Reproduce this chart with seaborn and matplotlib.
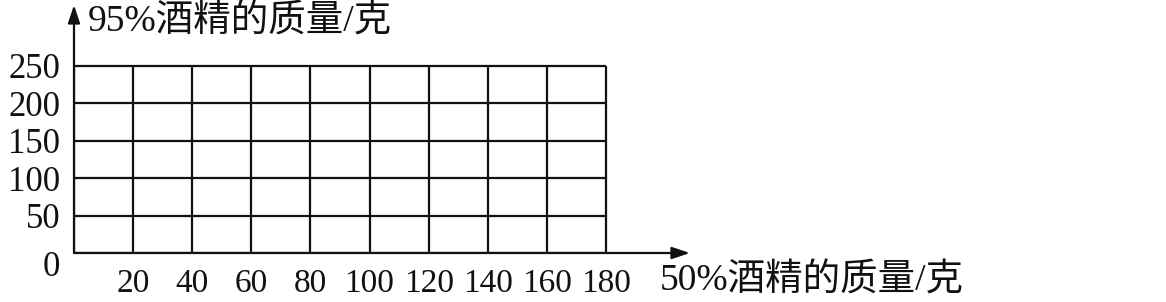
import matplotlib
matplotlib.use("Agg")
import matplotlib.pyplot as plt
import seaborn as sns
from matplotlib.transforms import ScaledTranslation

x_ticks = [0, 20, 40, 60, 80, 100, 120, 140, 160, 180]
x_labels = ["", "20", "40", "60", "80", "100", "120", "140", "160", "180"]
y_ticks = [0, 50, 100, 150, 200, 250]
y_labels = ["0", "50", "100", "150", "200", "250"]
x_title = "50%酒精的质量/克"
y_title = "95%酒精的质量/克"

sns.set_theme(style="white")
fam = ["Liberation Serif", "Noto Sans CJK SC"]
plt.rcParams["font.family"] = fam

W, H = 1166, 302
fig = plt.figure(figsize=(W / 100, H / 100), dpi=100)
x0, x180, xend = 74, 606, 690
ybot, y250, ytop = 253, 66, 5
ax = fig.add_axes([x0 / W, (H - ybot) / H, (xend - x0) / W, (ybot - ytop) / H])
ax.set_facecolor("white")

xmax = (xend - x0) / (x180 - x0) * 180
ymax = (ybot - ytop) / (ybot - y250) * 250
ax.set_xlim(0, xmax)
ax.set_ylim(0, ymax)

lc = "#111111"
ax.vlines(x_ticks, 0, y_ticks[-1], colors=lc, linewidth=1.6)
ax.hlines(y_ticks, 0, x_ticks[-1], colors=lc, linewidth=1.6)

for s in ["top", "right", "left", "bottom"]:
    ax.spines[s].set_visible(False)

ax.annotate("", xy=(xmax, 0), xytext=(0, 0),
            arrowprops=dict(arrowstyle="-|>,head_length=0.9,head_width=0.3", color=lc, lw=1.6,
                            shrinkA=0, shrinkB=0), annotation_clip=False)
ax.annotate("", xy=(0, ymax), xytext=(0, 0),
            arrowprops=dict(arrowstyle="-|>,head_length=0.9,head_width=0.3", color=lc, lw=1.6,
                            shrinkA=0, shrinkB=0), annotation_clip=False)

ax.set_xticks(x_ticks)
ax.set_xticklabels(x_labels, fontsize=24, color=lc)
ax.set_yticks(y_ticks)
ax.set_yticklabels(y_labels, fontsize=25, color=lc)
ax.tick_params(axis="x", length=0, pad=11)
ax.tick_params(axis="y", length=0, pad=10)
lab0 = ax.get_yticklabels()[0]
lab0.set_transform(lab0.get_transform() + ScaledTranslation(0, -10 / 100, fig.dpi_scale_trans))

fig.text(660 / W, 1 - 281 / H, x_title, fontsize=27, color=lc, ha="left", va="center", family=fam)
fig.text(88 / W, 1 - 22 / H, y_title, fontsize=27, color=lc, ha="left", va="center", family=fam)

fig.savefig("out.png", dpi=100, facecolor="white")
